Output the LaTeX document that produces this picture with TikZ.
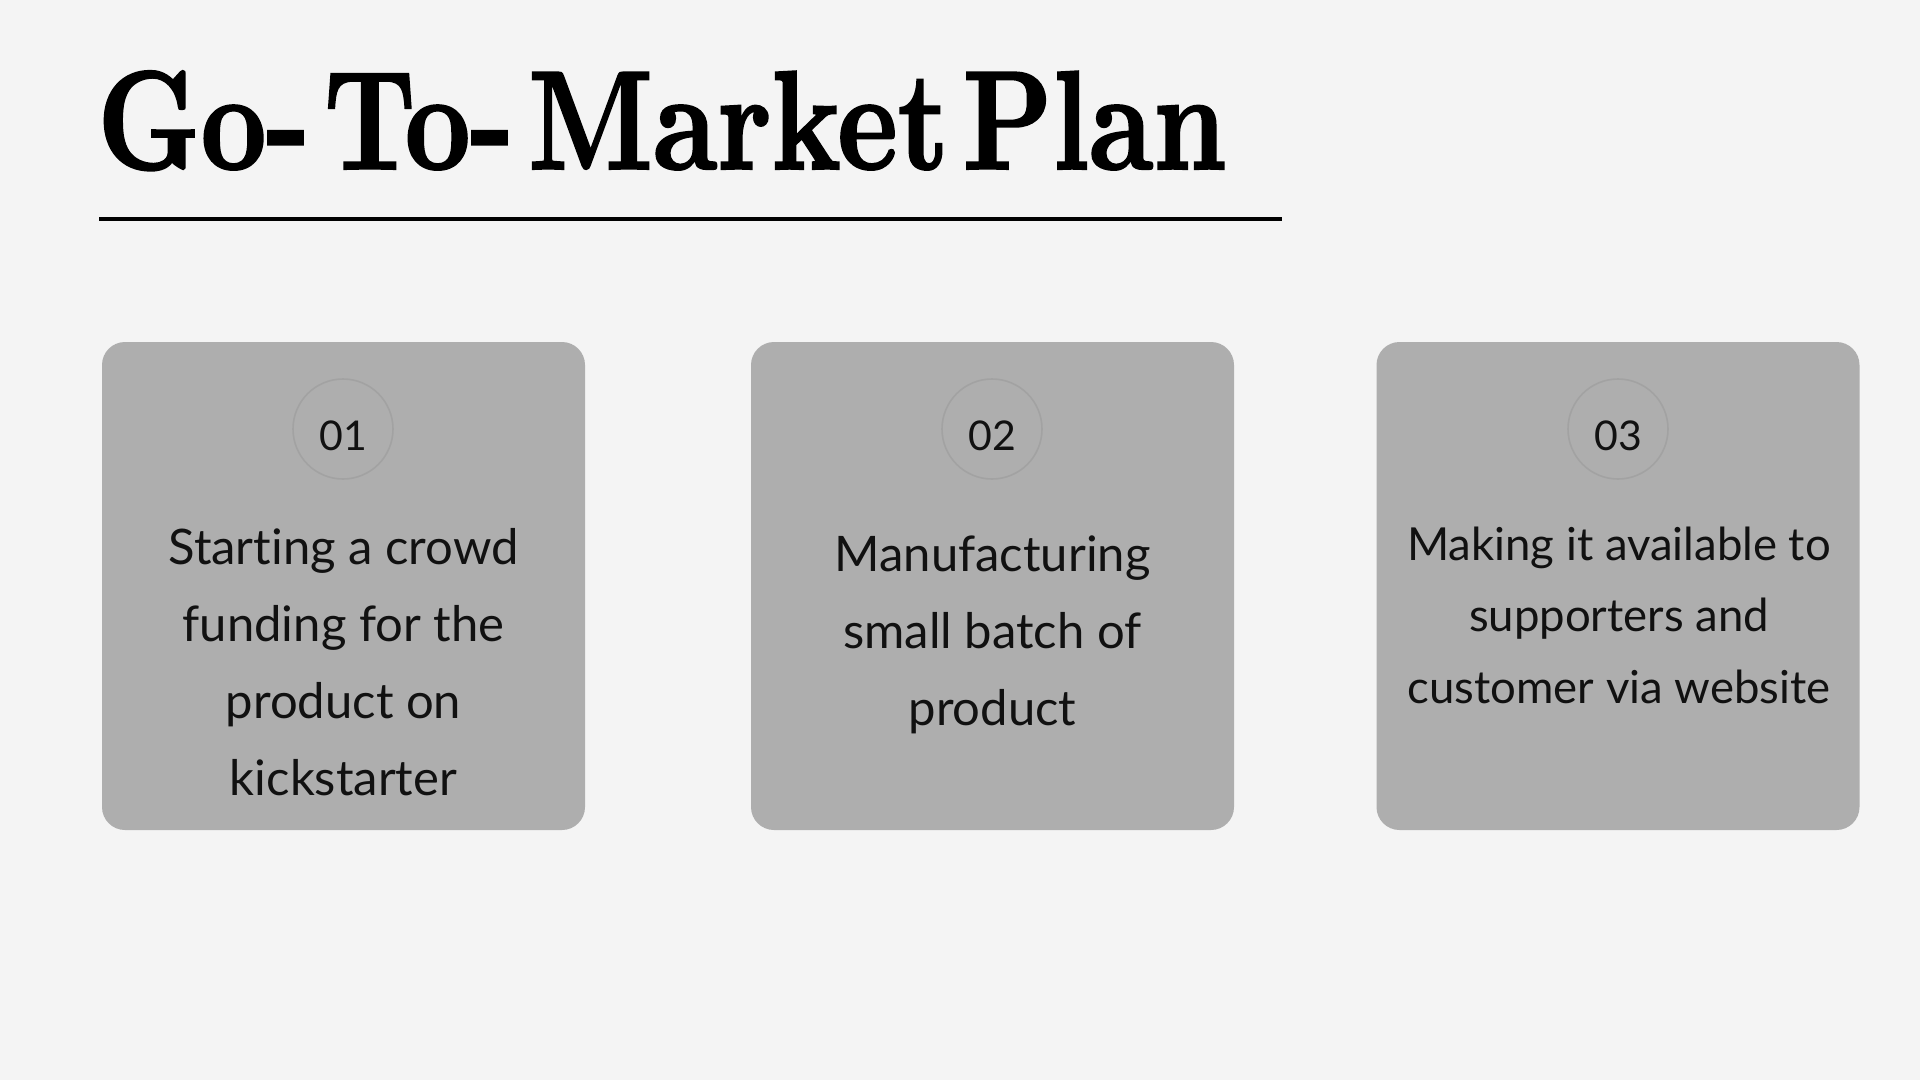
\documentclass[tikz,border=0pt]{standalone}
\usepackage{fontspec}
\setmainfont{Latin Modern Roman}
\newfontfamily\titlefont[BoldFeatures={FakeBold=1.6}]{Latin Modern Roman}
\newfontfamily\bodyfont[Ligatures={NoCommon}]{Lato}
\definecolor{bg}{HTML}{F4F4F4}
\definecolor{boxgray}{HTML}{AEAEAE}
\definecolor{ringgray}{HTML}{A2A2A2}
\definecolor{ink}{HTML}{111111}
\newcommand{\tsp}{\hspace{0.12em}}
\tikzset{
  card/.style={fill=boxgray, draw=none, rounded corners=23pt, minimum width=483pt, minimum height=488pt, inner sep=0pt},
  ring/.style={circle, draw=ringgray, line width=1.6pt, minimum size=100pt, inner sep=0pt},
  numtxt/.style={anchor=base, inner sep=0pt, text=ink, font=\bodyfont\fontsize{41}{41}\selectfont},
  bodytxt/.style={anchor=base, inner sep=0pt, align=center, text=ink, font=\bodyfont\fontsize{49}{77}\selectfont},
  bodytxtsmall/.style={anchor=base, inner sep=0pt, align=center, text=ink, font=\bodyfont\fontsize{45.5}{71.5}\selectfont},
}
\begin{document}
\begin{tikzpicture}[x=1pt,y=-1pt]
\fill[bg] (0,0) rectangle (1920,1080);
\useasboundingbox (0,0) rectangle (1920,1080);
% title
\node[anchor=base west, inner sep=0pt] (title) at (97,169)
  {\resizebox{1128pt}{98pt}{\titlefont\bfseries Go-\tsp To-\tsp Market\tsp Plan}};
\coordinate (ulA) at (99,219);
\coordinate (ulB) at (1282,219);
\draw[line width=4pt] (ulA) -- (ulB);
% cards
\node[card] (b1) at (343.5,586) {};
\node[card] (b2) at (992.5,586) {};
\node[card] (b3) at (1618,586) {};
% rings
\node[ring] (c1) at (343,429) {};
\node[ring] (c2) at (992,429) {};
\node[ring] (c3) at (1618,429) {};
\node[numtxt] (n1) at (343,450) {01};
\node[numtxt] (n2) at (992,450) {02};
\node[numtxt] (n3) at (1618,450) {03};
% texts (base anchor = last line baseline)
\node[bodytxt] (t1) at (343.5,795) {Starting a crowd\\funding for the\\product on\\kickstarter};
\node[bodytxt] (t2) at (992.5,725) {Manufacturing\\small batch of\\product};
\node[bodytxtsmall] (t3) at (1619,703) {Making it available to\\supporters and\\customer via website};
\end{tikzpicture}
\end{document}
